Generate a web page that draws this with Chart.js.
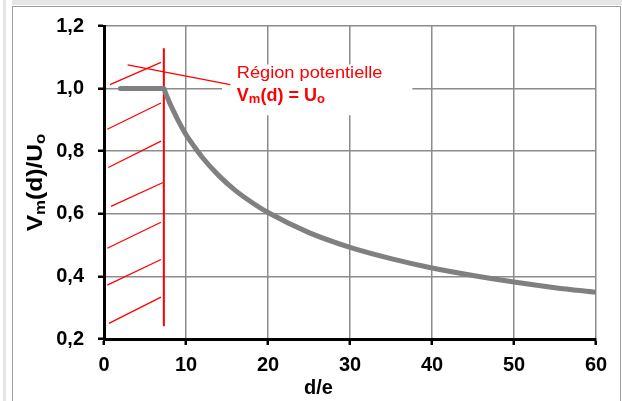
<!DOCTYPE html>
<html>
<head>
<meta charset="utf-8">
<script src="https://cdn.jsdelivr.net/npm/chart.js@4.4.1/dist/chart.umd.min.js"></script>
<style>
  html, body { margin: 0; padding: 0; background: #fff; overflow: hidden; }
  #wrap { position: relative; width: 622px; height: 401px; }
  .band { position: absolute; background: #e6e6e6; }
  #frame { position: absolute; left: 12px; top: 6px; width: 607px; height: 400px;
           border: 1.5px solid #9c9c9c; border-bottom: none; }
  #chart { position: absolute; left: 0; top: 0; }
</style>
</head>
<body>
<div id="wrap">
  <div class="band" style="left:12px;top:0;width:610px;height:5px"></div>
  <div class="band" style="left:3px;top:0;width:3px;height:401px"></div>
  <div id="frame"></div>
  <canvas id="chart" width="622" height="401"></canvas>
</div>
<script>
// values
const xTickLabels = ['0', '10', '20', '30', '40', '50', '60'];
const yTickLabels = ['0,2', '0,4', '0,6', '0,8', '1,0', '1,2'];

// potential region plateau, then the decay curve Vm(d)/Uo vs d/e
const plateauD = [2.0, 7.3];
const plateauV = [1.0, 1.0];
const curveD = [7.3, 7.6, 8, 8.5, 9, 10, 11, 12, 14, 16, 18, 20, 25, 30, 35, 40, 45, 50, 55, 60];
const curveV = [1.0, 0.98, 0.955, 0.927, 0.9, 0.853, 0.815, 0.78, 0.722, 0.675, 0.637, 0.604,
                0.54, 0.493, 0.457, 0.427, 0.403, 0.382, 0.364, 0.349];

// red boundary and hatching of the forbidden zone
const boundaryD = [7.3, 7.3];
const boundaryV = [1.129, 0.241];
const hatchStartD = [0.73, 0.4, 0.52, 0.85, 0.4, 0.4, 0.6];
const hatchStartV = [1.013, 0.870, 0.748, 0.624, 0.490, 0.372, 0.250];
const hatchEndD = [6.95, 6.95, 6.95, 7.2, 6.95, 6.95, 6.95];
const hatchEndV = [1.084, 0.954, 0.832, 0.700, 0.573, 0.454, 0.334];

// callout
const leaderD = [2.88, 15.4];
const leaderV = [1.076, 1.0125];
const noteBoxD = [14.4, 37.6];
const noteBoxV = [1.077, 0.915];
const noteD = 16.2;
const noteV = [1.0335, 0.959];

const RED = '#ff0000';
const GREY = '#808080';
const FONT = '"Liberation Sans", Arial, sans-serif';

function pts(xs, ys) {
  return xs.map((x, i) => ({ x: x, y: ys[i] }));
}

function redLine(data, width) {
  return { data: data, borderColor: RED, borderWidth: width, showLine: true, pointRadius: 0 };
}

const datasets = [
  { data: pts(curveD, curveV), borderColor: GREY, borderWidth: 5, showLine: true,
    pointRadius: 0, cubicInterpolationMode: 'monotone' },
  { data: pts(plateauD, plateauV), borderColor: GREY, borderWidth: 5, showLine: true,
    pointRadius: 0, borderCapStyle: 'round' },
  redLine(pts(boundaryD, boundaryV), 2),
  redLine(pts(leaderD, leaderV), 1.3)
];
hatchStartD.forEach((d, i) => {
  datasets.push(redLine([{ x: d, y: hatchStartV[i] }, { x: hatchEndD[i], y: hatchEndV[i] }], 1.3));
});

// draws text with subscript pieces, returns width
function drawRich(ctx, parts, x, y, mainFont, subFont, drop, measureOnly) {
  let cx = x;
  parts.forEach(p => {
    ctx.font = p.sub ? subFont : mainFont;
    if (!measureOnly) ctx.fillText(p.t, cx, y + (p.sub ? drop : 0));
    cx += ctx.measureText(p.t).width;
  });
  return cx - x;
}

const notePlugin = {
  id: 'notes',
  beforeDatasetsDraw(chart) {
    const ctx = chart.ctx, xs = chart.scales.x, ys = chart.scales.y;
    const x0 = xs.getPixelForValue(noteBoxD[0]), x1 = xs.getPixelForValue(noteBoxD[1]);
    const y0 = ys.getPixelForValue(noteBoxV[0]), y1 = ys.getPixelForValue(noteBoxV[1]);
    ctx.save();
    ctx.fillStyle = '#fff';
    ctx.fillRect(x0, y0, x1 - x0, y1 - y0);
    ctx.restore();
  },
  afterDatasetsDraw(chart) {
    const ctx = chart.ctx, xs = chart.scales.x, ys = chart.scales.y;
    const area = chart.chartArea;
    ctx.save();
    ctx.textBaseline = 'alphabetic';
    ctx.textAlign = 'left';

    // callout text
    const nx = xs.getPixelForValue(noteD);
    ctx.fillStyle = RED;
    ctx.save();
    ctx.translate(nx, ys.getPixelForValue(noteV[0]));
    ctx.scale(1.07, 1);
    ctx.font = '17px ' + FONT;
    ctx.fillText('Région potentielle', 0, 0);
    ctx.restore();
    drawRich(ctx, [{ t: 'V' }, { t: 'm', sub: true }, { t: '(d) = U' }, { t: 'o', sub: true }],
      nx, ys.getPixelForValue(noteV[1]), 'bold 18px ' + FONT, 'bold 13px ' + FONT, 2);

    // axis titles
    ctx.fillStyle = '#000';
    const yParts = [{ t: 'V' }, { t: 'm', sub: true }, { t: '(d)/U' }, { t: 'o', sub: true }];
    const w = drawRich(ctx, yParts, 0, 0, 'bold 22px ' + FONT, 'bold 15px ' + FONT, 3, true);
    ctx.save();
    ctx.translate(42, (area.top + area.bottom) / 2);
    ctx.rotate(-Math.PI / 2);
    ctx.scale(1.12, 1);
    drawRich(ctx, yParts, -w / 2, 0, 'bold 22px ' + FONT, 'bold 15px ' + FONT, 3);
    ctx.restore();

    ctx.font = 'bold 20px ' + FONT;
    ctx.textAlign = 'center';
    ctx.fillText('d/e', 318.5, 394);
    ctx.restore();
  }
};

const axisStyle = {
  grid: { color: '#8c8c8c', lineWidth: 1.5, tickColor: '#000', tickLength: 6, tickWidth: 2.5 },
  border: { color: '#000', width: 3 }
};

new Chart(document.getElementById('chart'), {
  type: 'scatter',
  data: { datasets: datasets },
  options: {
    responsive: false,
    animation: false,
    layout: { padding: { left: 0, top: 24, right: 26, bottom: 0 } },
    plugins: { legend: { display: false }, tooltip: { enabled: false } },
    scales: {
      x: {
        type: 'linear', min: 0, max: 60,
        ticks: { stepSize: 10, color: '#000', padding: 8,
                 font: { family: FONT, size: 20, weight: 'bold' },
                 callback: (v, i) => xTickLabels[i] },
        grid: axisStyle.grid, border: axisStyle.border,
        afterFit: s => { s.height = 62; }
      },
      y: {
        type: 'linear', min: 0.2, max: 1.2,
        ticks: { stepSize: 0.2, color: '#000', padding: 14,
                 font: { family: FONT, size: 20, weight: 'bold' },
                 callback: (v, i) => yTickLabels[i] },
        grid: axisStyle.grid, border: axisStyle.border,
        afterFit: s => { s.width = 104; }
      }
    }
  },
  plugins: [notePlugin]
});
</script>
</body>
</html>
